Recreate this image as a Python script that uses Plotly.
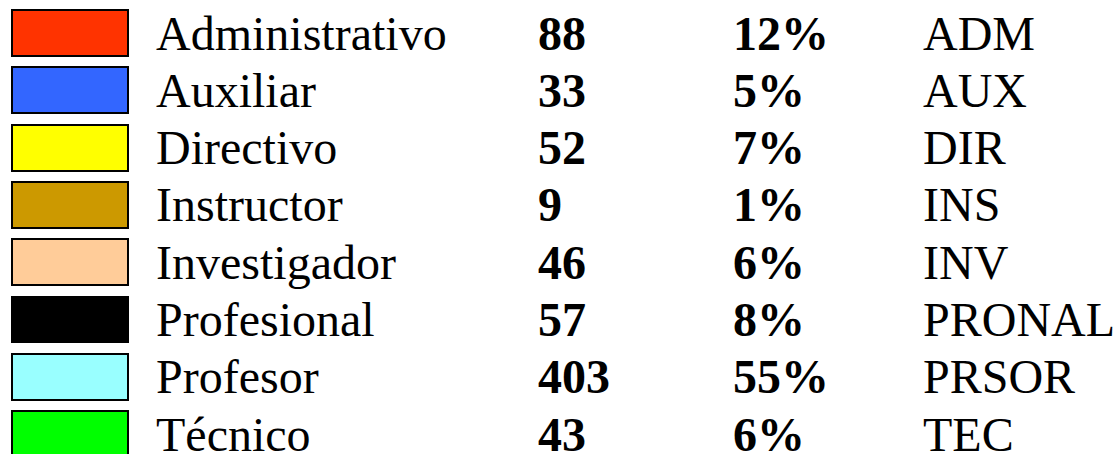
import plotly.graph_objects as go

# ---- data ----
categories = ["Administrativo", "Auxiliar", "Directivo", "Instructor",
              "Investigador", "Profesional", "Profesor", "Técnico"]
counts = [88, 33, 52, 9, 46, 57, 403, 43]
percents = ["12%", "5%", "7%", "1%", "6%", "8%", "55%", "6%"]
codes = ["ADM", "AUX", "DIR", "INS", "INV", "PRONAL", "PRSOR", "TEC"]
colors = ["#FF3300", "#3366FF", "#FFFF00", "#CC9900",
          "#FFCC99", "#000000", "#99FFFF", "#00FF00"]

W, H = 1119, 454
rows = list(range(len(categories)))
FONT = "Liberation Serif, Times New Roman, serif"
FS = 48

fig = go.Figure()

# colour swatches
fig.add_trace(go.Bar(
    y=rows, x=[116] * len(rows), base=[11.5] * len(rows),
    orientation="h", width=0.8,
    marker=dict(color=colors, line=dict(color="black", width=2)),
    hoverinfo="skip", showlegend=False,
))

def text_col(x, labels, bold=False):
    fig.add_trace(go.Scatter(
        x=[x] * len(rows), y=[r + 0.08 for r in rows],
        mode="text", text=[str(v) for v in labels],
        textposition="middle right",
        textfont=dict(family=FONT, size=FS, color="black",
                      weight="bold" if bold else "normal"),
        hoverinfo="skip", showlegend=False, cliponaxis=False,
    ))

text_col(156, categories)
text_col(538, counts, bold=True)
text_col(733, percents, bold=True)
text_col(923, codes)

px_per_row = 57.3
top = -33 / px_per_row
bottom = top + H / px_per_row

fig.update_layout(
    width=W, height=H,
    margin=dict(l=0, r=0, t=0, b=0),
    paper_bgcolor="white", plot_bgcolor="white",
    xaxis=dict(range=[0, W], visible=False, fixedrange=True),
    yaxis=dict(range=[bottom, top], visible=False, fixedrange=True),
    bargap=0,
)

fig.write_html(
    "out.html",
    config={"displayModeBar": False},
    post_script="document.body.style.margin='0';document.body.style.overflow='hidden';",
)
